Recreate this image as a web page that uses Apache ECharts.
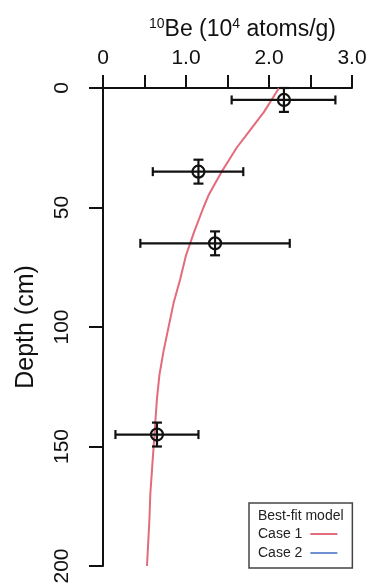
<!DOCTYPE html>
<html>
<head>
<meta charset="utf-8">
<script src="https://cdn.jsdelivr.net/npm/echarts@6/dist/echarts.min.js"></script>
<style>
  html, body { margin: 0; padding: 0; background: #fff; }
  #chart { width: 371px; height: 588px; }
</style>
</head>
<body>
<div id="chart"></div>
<script>
// measured samples: depth (cm), 10Be (10^4 atoms/g) with error bounds
const sampleDepth = [5, 35, 65, 145]
const sampleBe = [2.18, 1.15, 1.35, 0.65]
const sampleBeLow = [1.55, 0.60, 0.45, 0.15]
const sampleBeHigh = [2.80, 1.69, 2.25, 1.15]
const sampleDepthErr = [5, 5, 5, 5]

// best-fit model curve (case 1)
const modelDepth = [0, 5, 10, 15, 20, 25, 30, 35, 40, 45, 50, 60, 70, 80, 90, 100, 110, 120, 130, 140, 150, 160, 170, 180, 190, 200]
const modelBe = [2.12, 2.03, 1.94, 1.83, 1.72, 1.61, 1.52, 1.43, 1.35, 1.27, 1.21, 1.10, 1.00, 0.93, 0.85, 0.79, 0.73, 0.68, 0.65, 0.63, 0.61, 0.59, 0.57, 0.56, 0.545, 0.53]

const xTicks = ['0', '1.0', '2.0', '3.0']
const yTicks = ['0', '50', '100', '150', '200']

const FONT = '"Liberation Sans", Arial, Helvetica, sans-serif'

let myChart = echarts.init(document.getElementById('chart'))

const errData = sampleDepth.map((d, i) => [sampleBe[i], d, sampleBeLow[i], sampleBeHigh[i], sampleDepthErr[i]])

function renderErr(params, api) {
  const c = api.coord([api.value(0), api.value(1)])
  const lo = api.coord([api.value(2), api.value(1)])
  const hi = api.coord([api.value(3), api.value(1)])
  const top = api.coord([api.value(0), api.value(1) - api.value(4)])
  const bot = api.coord([api.value(0), api.value(1) + api.value(4)])
  const st = { stroke: '#111', lineWidth: 2.2, fill: null }
  const capH = 4.5
  const capW = 5
  return {
    type: 'group',
    children: [
      { type: 'line', shape: { x1: lo[0], y1: c[1], x2: hi[0], y2: c[1] }, style: st },
      { type: 'line', shape: { x1: lo[0], y1: c[1] - capH, x2: lo[0], y2: c[1] + capH }, style: st },
      { type: 'line', shape: { x1: hi[0], y1: c[1] - capH, x2: hi[0], y2: c[1] + capH }, style: st },
      { type: 'line', shape: { x1: c[0], y1: top[1], x2: c[0], y2: bot[1] }, style: st },
      { type: 'line', shape: { x1: c[0] - capW, y1: top[1], x2: c[0] + capW, y2: top[1] }, style: st },
      { type: 'line', shape: { x1: c[0] - capW, y1: bot[1], x2: c[0] + capW, y2: bot[1] }, style: st },
      { type: 'circle', shape: { cx: c[0], cy: c[1], r: 6 }, style: { stroke: '#111', lineWidth: 2.2, fill: 'rgba(0,0,0,0)' } }
    ]
  }
}

let option = {
  animation: false,
  backgroundColor: '#fff',
  textStyle: { fontFamily: FONT },
  grid: { left: 103, top: 88, right: 19, bottom: 22, containLabel: false },
  xAxis: {
    type: 'value',
    position: 'top',
    min: 0,
    max: 3,
    interval: 0.5,
    name: '{sup|10}Be (10{sup|4} atoms/g)',
    nameLocation: 'middle',
    nameGap: 45,
    nameTextStyle: {
      fontFamily: FONT,
      fontSize: 23,
      color: '#111',
      padding: [0, 0, 0, 30],
      lineHeight: 26,
      rich: {
        sup: { fontSize: 14, verticalAlign: 'top', lineHeight: 14, fontFamily: FONT, color: '#111' }
      }
    },
    axisLine: { show: true, onZero: false, lineStyle: { color: '#111', width: 2 } },
    axisTick: { show: true, inside: false, length: 13, lineStyle: { color: '#111', width: 2 } },
    axisLabel: {
      fontSize: 21,
      color: '#111',
      margin: 19,
      formatter: function (val) {
        if (Math.abs(val - Math.round(val)) > 1e-6) return ''
        return xTicks[Math.round(val)]
      }
    },
    splitLine: { show: false }
  },
  yAxis: {
    type: 'value',
    inverse: true,
    min: 0,
    max: 200,
    interval: 50,
    name: 'Depth (cm)',
    nameLocation: 'middle',
    nameRotate: 90,
    nameGap: 64,
    nameTextStyle: { fontFamily: FONT, fontSize: 25, color: '#111' },
    axisLine: { show: true, onZero: false, lineStyle: { color: '#111', width: 2 } },
    axisTick: { show: true, inside: false, length: 14, lineStyle: { color: '#111', width: 2 } },
    axisLabel: {
      fontSize: 21,
      color: '#111',
      rotate: 90,
      margin: 30,
      formatter: function (val) {
        return yTicks[Math.round(val / 50)]
      }
    },
    splitLine: { show: false }
  },
  legend: {
    orient: 'vertical',
    left: 249,
    top: 503,
    align: 'right',
    icon: 'rect',
    padding: [24, 15, 8, 9],
    itemWidth: 27,
    itemHeight: 2,
    itemGap: 5,
    borderColor: '#444',
    borderWidth: 1.5,
    textStyle: { fontFamily: FONT, fontSize: 14, color: '#222', padding: [0, 3, 0, 0] },
    data: ['Case 1', 'Case 2']
  },
  graphic: [
    {
      type: 'text',
      left: 258,
      top: 509,
      style: { text: 'Best-fit model', font: '14px ' + FONT, fill: '#222' }
    }
  ],
  series: [
    {
      name: 'Case 1',
      type: 'line',
      smooth: false,
      symbol: 'none',
      color: '#e36b7c',
      lineStyle: { width: 2, color: '#e36b7c' },
      data: modelDepth.map((d, i) => [modelBe[i], d]),
      z: 3
    },
    {
      name: 'Case 2',
      type: 'line',
      symbol: 'none',
      color: '#6f8fd0',
      lineStyle: { width: 2, color: '#6f8fd0' },
      data: []
    },
    {
      name: 'samples',
      type: 'custom',
      renderItem: renderErr,
      encode: { x: 0, y: 1 },
      data: errData,
      z: 4
    }
  ]
}
myChart.setOption(option)
window.addEventListener('resize', function () {
  myChart.resize()
})
</script>
</body>
</html>
